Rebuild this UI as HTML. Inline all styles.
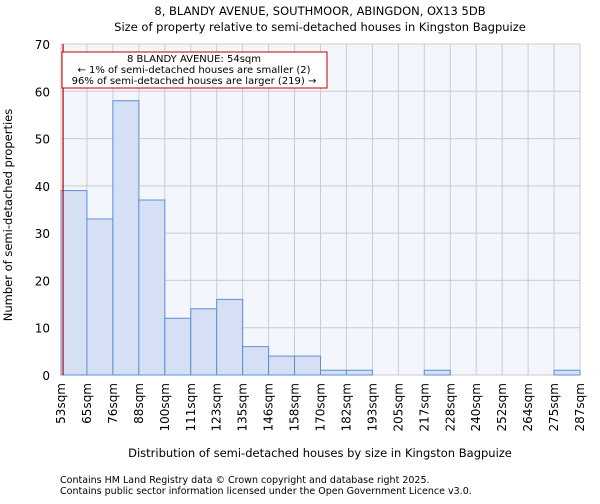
<!DOCTYPE html>
<html><head><meta charset="utf-8"><style>
body{margin:0;background:#fff;font-family:"DejaVu Sans","Liberation Sans",sans-serif}
</style></head><body>
<svg id="c" width="600" height="500" xmlns="http://www.w3.org/2000/svg">
<text x="320" y="15" font-size="11.5" text-anchor="middle">8, BLANDY AVENUE, SOUTHMOOR, ABINGDON, OX13 5DB</text>
<text x="320" y="31" font-size="11.5" text-anchor="middle">Size of property relative to semi-detached houses in Kingston Bagpuize</text>
<rect x="61" y="44" width="519" height="331" fill="#f3f6fd"/>
<g id="grid"></g><g id="bars"></g><g id="axes"></g>
<text transform="translate(12,215) rotate(-90)" font-size="11.5" text-anchor="middle">Number of semi-detached properties</text>
<text x="320" y="457" font-size="11.5" text-anchor="middle">Distribution of semi-detached houses by size in Kingston Bagpuize</text>
<text x="60" y="483" font-size="9.5">Contains HM Land Registry data © Crown copyright and database right 2025.</text>
<text x="60" y="494" font-size="9.5">Contains public sector information licensed under the Open Government Licence v3.0.</text>
</svg>
<script>
const tickLabels=["53sqm","65sqm","76sqm","88sqm","100sqm","111sqm","123sqm","135sqm","146sqm","158sqm","170sqm","182sqm","193sqm","205sqm","217sqm","228sqm","240sqm","252sqm","264sqm","275sqm","287sqm"];
const counts=[39,33,58,37,12,14,16,6,4,4,1,1,0,0,1,0,0,0,0,1];
const yTicks=[0,10,20,30,40,50,60,70];
const markerPos=0.08;
const X0=61,X1=580,Y0=375,Y1=44,YMAX=70;
const bw=(X1-X0)/counts.length;
const xs=i=>X0+i*bw, ys=v=>Y0-(v/YMAX)*(Y0-Y1);
const NS="http://www.w3.org/2000/svg";
function mk(t,a,p){const e=document.createElementNS(NS,t);for(const k in a)e.setAttribute(k,a[k]);p.appendChild(e);return e;}
const g=document.getElementById('grid'),b=document.getElementById('bars'),ax=document.getElementById('axes');
yTicks.forEach(v=>{
 const l=mk('line',{x1:X0,x2:X1,y1:ys(v),y2:ys(v),stroke:'#cccccc'},g);
 
 
 const t=mk('text',{x:50,y:ys(v)+5,'font-size':12,'text-anchor':'end'},ax);t.textContent=v;
 
 
});
tickLabels.forEach((s,i)=>{
 const l=mk('line',{x1:xs(i),x2:xs(i),y1:Y1,y2:Y0,stroke:'#cccccc'},g);
 
 
 const t=mk('text',{transform:`translate(${xs(i)+4},${Y0+8}) rotate(-90)`,'font-size':12,'text-anchor':'end'},ax);t.textContent=s;
 
 
});
counts.forEach((v,i)=>{
 if(v<=0)return;
 const r=mk('rect',{x:xs(i),y:ys(v),width:bw,height:Y0-ys(v),fill:'#d6e0f4',stroke:'#5b8fd6','stroke-width':1},b);
 
 
});
const rl=mk('line',{x1:xs(markerPos),x2:xs(markerPos),y1:Y1,y2:Y0,stroke:'#c00000','stroke-width':1.2},ax);


const bx=mk('rect',{x:62,y:52,width:265,height:36,fill:'#fff',stroke:'#c00000'},ax);


["8 BLANDY AVENUE: 54sqm","← 1% of semi-detached houses are smaller (2)","96% of semi-detached houses are larger (219) →"].forEach((s,i)=>{
 const t=mk('text',{x:194,y:62+i*11,'font-size':10,'text-anchor':'middle'},ax);t.textContent=s;
 
 
});
</script>
</body></html>
